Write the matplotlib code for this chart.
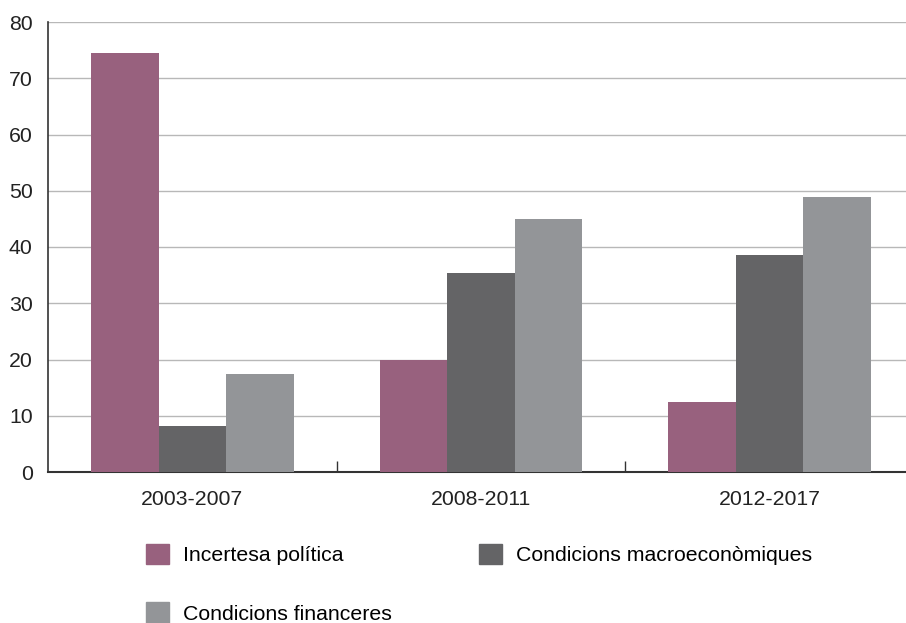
import numpy as np
import matplotlib.pyplot as plt
from matplotlib.patches import Patch

plt.rcParams['font.family'] = ['Liberation Sans', 'DejaVu Sans']

periods = ["2003-2007", "2008-2011", "2012-2017"]
series_names = ["Incertesa política", "Condicions macroeconòmiques", "Condicions financeres"]
incertesa = [74.5, 19.9, 12.4]
macro = [8.2, 35.4, 38.6]
financeres = [17.4, 45.0, 48.9]
colors = ["#98617e", "#646466", "#939598"]

W, H = 906, 623
fig = plt.figure(figsize=(W / 100, H / 100), dpi=100)
# axes frame in pixels: left 48, right 914 (clipped by figure edge), top 22, bottom 472
ax = fig.add_axes([48 / W, (H - 472) / H, (914 - 48) / W, (472 - 22) / H])

x = np.arange(len(periods))
width = 0.234
for i, (vals, col) in enumerate(zip([incertesa, macro, financeres], colors)):
    ax.bar(x + (i - 1) * width, vals, width, color=col, zorder=3)

ax.set_xlim(-0.5, 2.5)
ax.set_ylim(0, 80)
ax.set_yticks(range(0, 81, 10))
ax.yaxis.grid(True, color="#b8b8b8", linewidth=1.0, zorder=0)
ax.set_axisbelow(True)

for s in ["top", "right"]:
    ax.spines[s].set_visible(False)
ax.spines["left"].set_color("#333333")
ax.spines["bottom"].set_color("#333333")
ax.spines["left"].set_linewidth(1.2)
ax.spines["bottom"].set_linewidth(1.5)

ax.set_xticks(x)
ax.set_xticklabels(periods)
ax.set_xticks([0.5, 1.5], minor=True)
ax.tick_params(axis="x", which="major", length=0, pad=13, labelsize=15.3, colors="#222222")
ax.tick_params(axis="x", which="minor", direction="in", length=8, width=1, color="#333333")
ax.tick_params(axis="y", length=0, pad=11, labelsize=15.3, colors="#222222")

# legend fills column-wise, so order items to read row-wise like the original
order = [0, 2, 1]
handles = [Patch(color=colors[i]) for i in order]
labels = [series_names[i] for i in order]
fig.legend(handles, labels, loc="upper left", bbox_to_anchor=(137 / W, 1 - 535 / H),
           ncol=2, frameon=False, fontsize=15.3, handlelength=1.1, handleheight=1.1,
           handletextpad=0.66, columnspacing=4.1, labelspacing=1.75, borderaxespad=0)

fig.savefig("out.png", dpi=100)
